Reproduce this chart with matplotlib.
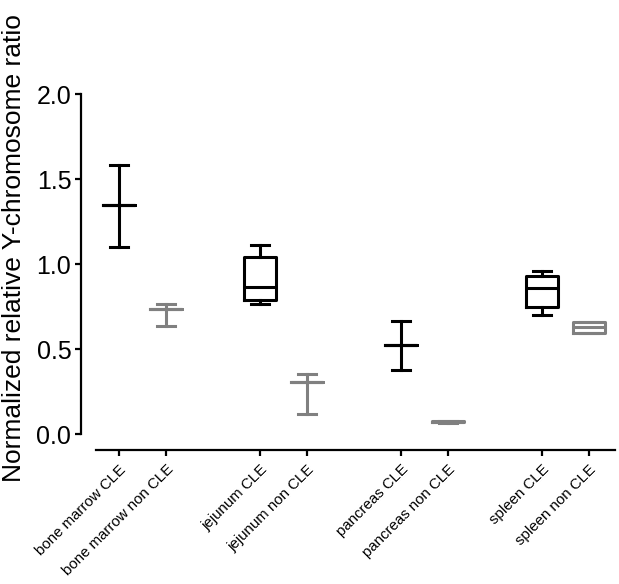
import matplotlib
matplotlib.use("Agg")
import matplotlib.pyplot as plt

plt.rcParams['font.family'] = ['Liberation Sans', 'DejaVu Sans']

# groups (CLE / non CLE per tissue)
labels = ['bone marrow CLE', 'bone marrow non CLE',
          'jejunum CLE', 'jejunum non CLE',
          'pancreas CLE', 'pancreas non CLE',
          'spleen CLE', 'spleen non CLE']
positions = [1, 2, 4, 5, 7, 8, 10, 11]

# box statistics
whislo = [1.10, 0.635, 0.765, 0.118, 0.376, 0.066, 0.700, 0.594]
q1     = [1.345, 0.735, 0.788, 0.306, 0.524, 0.068, 0.747, 0.597]
med    = [1.345, 0.735, 0.865, 0.306, 0.524, 0.072, 0.859, 0.629]
q3     = [1.345, 0.735, 1.041, 0.306, 0.524, 0.076, 0.929, 0.657]
whishi = [1.58, 0.765, 1.112, 0.353, 0.665, 0.078, 0.959, 0.660]

colors = ['black', '#808080'] * 4

fig = plt.figure(figsize=(6.19, 5.84), dpi=100)
ax = fig.add_axes([81 / 619, (584 - 450) / 584, (615 - 81) / 619, (450 - 94) / 584])

for i in range(len(labels)):
    st = [dict(whislo=whislo[i], q1=q1[i], med=med[i], q3=q3[i],
               whishi=whishi[i], fliers=[])]
    c = colors[i]
    lw = 2.2
    ax.bxp(st, positions=[positions[i]], widths=0.68, capwidths=0.38,
           showfliers=False, manage_ticks=False,
           boxprops=dict(color=c, linewidth=lw),
           whiskerprops=dict(color=c, linewidth=lw),
           capprops=dict(color=c, linewidth=lw),
           medianprops=dict(color=c, linewidth=lw))

ax.set_xlim(0.19, 11.55)
ax.set_ylim(-0.094, 2.0)

ax.spines['top'].set_visible(False)
ax.spines['right'].set_visible(False)
ax.spines['left'].set_bounds(0, 2.0)
ax.spines['bottom'].set_bounds(0.5, 11.55)
for s in ['left', 'bottom']:
    ax.spines[s].set_linewidth(1.6)

ax.set_yticks([0.0, 0.5, 1.0, 1.5, 2.0])
ax.set_yticklabels(['0.0', '0.5', '1.0', '1.5', '2.0'], fontsize=18)
ax.set_xticks(positions)
ax.set_xticklabels(labels, rotation=45, ha='right', rotation_mode='anchor', fontsize=10.8)
ax.tick_params(axis='both', direction='out', length=4, width=1.6, color='black')
ax.tick_params(axis='y', pad=3)
ax.tick_params(axis='x', pad=5)

ax.set_ylabel('Normalized relative Y-chromosome ratio', fontsize=19)
ax.yaxis.set_label_coords(-0.103, 0.567)

for line in ax.lines:
    line.set_clip_on(False)

fig.savefig('out.png', dpi=100)
